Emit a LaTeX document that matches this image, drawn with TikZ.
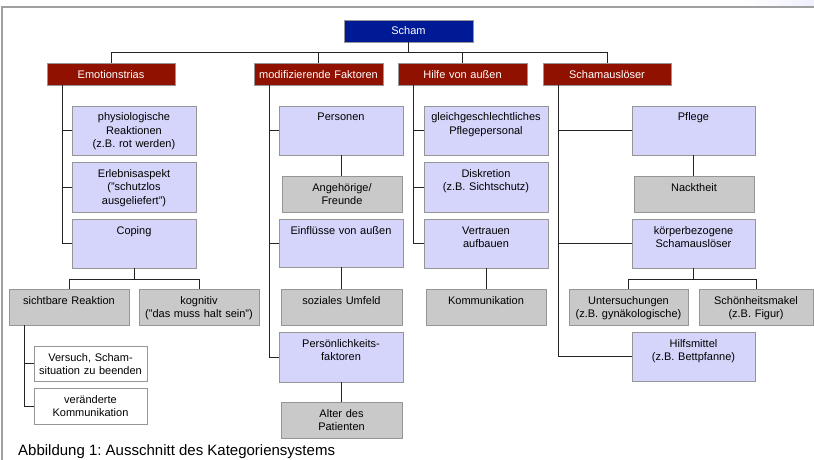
\documentclass[tikz,border=0pt]{standalone}
\usepackage{fontspec}
\setmainfont{Liberation Sans}
\frenchspacing
\definecolor{lav}{RGB}{213,213,251}
\definecolor{grayfill}{RGB}{201,201,201}
\definecolor{darkred}{RGB}{145,17,0}
\definecolor{darkblue}{RGB}{0,26,150}
\definecolor{bordergray}{RGB}{150,150,150}
\definecolor{linecol}{RGB}{35,35,35}
\definecolor{framegray}{RGB}{160,160,160}
\definecolor{glow}{RGB}{240,240,252}
\tikzset{
  cbox/.style={draw=bordergray, line width=0.9pt, anchor=north west, inner sep=0pt, outer sep=0pt},
  txt/.style={anchor=base, align=center, inner sep=0pt, outer sep=0pt, font=\fontsize{11}{13.5}\selectfont},
  conn/.style={draw=linecol, line width=0.9pt},
}
\newcommand\mybox[8]{%
  \pgfmathsetmacro\bw{#4-#2}%
  \pgfmathsetmacro\bh{#5-#3}%
  \node[cbox, fill=#6, minimum width=\bw pt, minimum height=\bh pt] (#1) at (#2,#3) {};
  \node[txt, text=#7, text width=\bw pt] (#1-t) at ([yshift=-15pt]#1.north) {#8};
}
\begin{document}
\begin{tikzpicture}[x=1pt, y=-1pt]
\useasboundingbox (0,0) rectangle (814,460);
\shade[left color=white, right color=glow] (740,0) rectangle (814,6);
\draw[framegray, line width=1.3pt] (2,460) -- (2,7) -- (814,7);

% boxes
\mybox{scham}{344}{20}{473}{42}{darkblue}{white}{Scham}
\mybox{emo}{47}{63}{175}{85}{darkred}{white}{Emotionstrias}
\mybox{modif}{254}{63}{383}{85}{darkred}{white}{modifizierende Faktoren}
\mybox{hilfe}{398}{63}{527}{85}{darkred}{white}{Hilfe von außen}
\mybox{ausl}{543}{63}{671}{85}{darkred}{white}{Schamauslöser}

\mybox{phys}{72}{106}{196}{155}{lav}{black}{physiologische\\Reaktionen\\(z.B. rot werden)}
\mybox{erleb}{72}{162}{196}{212}{lav}{black}{Erlebnisaspekt\\("schutzlos\\ausgeliefert")}
\mybox{coping}{72}{219}{196}{268}{lav}{black}{Coping}
\mybox{sicht}{9}{289}{129}{325}{grayfill}{black}{sichtbare Reaktion}
\mybox{kogn}{139}{289}{259}{325}{grayfill}{black}{kognitiv\\("das muss halt sein")}
\mybox{versuch}{34}{346}{147}{381}{white}{black}{Versuch, Scham-\\situation zu beenden}
\mybox{veraend}{34}{388}{147}{424}{white}{black}{veränderte\\Kommunikation}

\mybox{pers}{279}{106}{403}{155}{lav}{black}{Personen}
\mybox{angeh}{282}{176}{402}{212}{grayfill}{black}{Angehörige/\\Freunde}
\mybox{einfl}{279}{219}{403}{267}{lav}{black}{Einflüsse von außen}
\mybox{sozial}{281}{289}{402}{325}{grayfill}{black}{soziales Umfeld}
\mybox{persoen}{279}{332}{403}{382}{lav}{black}{Persönlichkeits-\\faktoren}
\mybox{alter}{281}{402}{402}{438}{grayfill}{black}{Alter des\\Patienten}

\mybox{gleich}{424}{106}{548}{155}{lav}{black}{gleichgeschlechtliches\\Pflegepersonal}
\mybox{diskr}{424}{162}{548}{212}{lav}{black}{Diskretion\\(z.B. Sichtschutz)}
\mybox{vertr}{424}{219}{548}{268}{lav}{black}{Vertrauen\\aufbauen}
\mybox{komm}{426}{289}{546}{325}{grayfill}{black}{Kommunikation}

\mybox{pflege}{632}{106}{755}{155}{lav}{black}{Pflege}
\mybox{nackt}{634}{176}{754}{212}{grayfill}{black}{Nacktheit}
\mybox{koerp}{632}{219}{755}{268}{lav}{black}{körperbezogene\\Schamauslöser}
\mybox{unters}{569}{289}{688}{325}{grayfill}{black}{Untersuchungen\\(z.B. gynäkologische)}
\mybox{schoen}{699}{289}{813}{325}{grayfill}{black}{Schönheitsmakel\\(z.B. Figur)}
\mybox{hilfsm}{632}{332}{755}{381}{lav}{black}{Hilfsmittel\\(z.B. Bettpfanne)}

% connectors
\coordinate (bus) at (0,52.5);
\draw[conn] (scham.south) -- (scham.south |- bus);
\draw[conn] (emo.north) -- (emo.north |- bus) -- (ausl.north |- bus) -- (ausl.north);
\draw[conn] (modif.north) -- (modif.north |- bus);
\draw[conn] (hilfe.north) -- (hilfe.north |- bus);

\coordinate (emoL) at ([xshift=15pt]emo.south west);
\draw[conn] (emoL) |- (coping.west);
\draw[conn] (phys.west) -- (phys.west -| emoL);
\draw[conn] (erleb.west) -- (erleb.west -| emoL);

\coordinate (cbus) at (0,279);
\draw[conn] (coping.south) -- (coping.south |- cbus);
\draw[conn] (sicht.north) -- (sicht.north |- cbus) -- (kogn.north |- cbus) -- (kogn.north);
\coordinate (sichtL) at ([xshift=15pt]sicht.south west);
\draw[conn] (sichtL) |- (veraend.west);
\draw[conn] (versuch.west) -- (versuch.west -| sichtL);

\coordinate (modL) at ([xshift=15pt]modif.south west);
\draw[conn] (modL) |- (persoen.west);
\draw[conn] (pers.west) -- (pers.west -| modL);
\draw[conn] (einfl.west) -- (einfl.west -| modL);
\draw[conn] (pers.south) -- (pers.south |- angeh.north);
\draw[conn] (einfl.south) -- (einfl.south |- sozial.north);
\draw[conn] (persoen.south) -- (persoen.south |- alter.north);

\coordinate (hilL) at ([xshift=15pt]hilfe.south west);
\draw[conn] (hilL) |- (vertr.west);
\draw[conn] (gleich.west) -- (gleich.west -| hilL);
\draw[conn] (diskr.west) -- (diskr.west -| hilL);
\draw[conn] (vertr.south) -- (vertr.south |- komm.north);

\coordinate (auslL) at ([xshift=15pt]ausl.south west);
\draw[conn] (auslL) |- (hilfsm.west);
\draw[conn] (pflege.west) -- (pflege.west -| auslL);
\draw[conn] (koerp.west) -- (koerp.west -| auslL);
\draw[conn] (pflege.south) -- (pflege.south |- nackt.north);
\coordinate (kbus) at (0,279);
\draw[conn] (koerp.south) -- (koerp.south |- kbus);
\draw[conn] (unters.north) -- (unters.north |- kbus) -- (schoen.north |- kbus) -- (schoen.north);

% caption
\node[anchor=base west, inner sep=0pt, font=\fontsize{15}{18}\selectfont] (cap) at (18,455) {Abbildung 1: Ausschnitt des Kategoriensystems};
\end{tikzpicture}
\end{document}
